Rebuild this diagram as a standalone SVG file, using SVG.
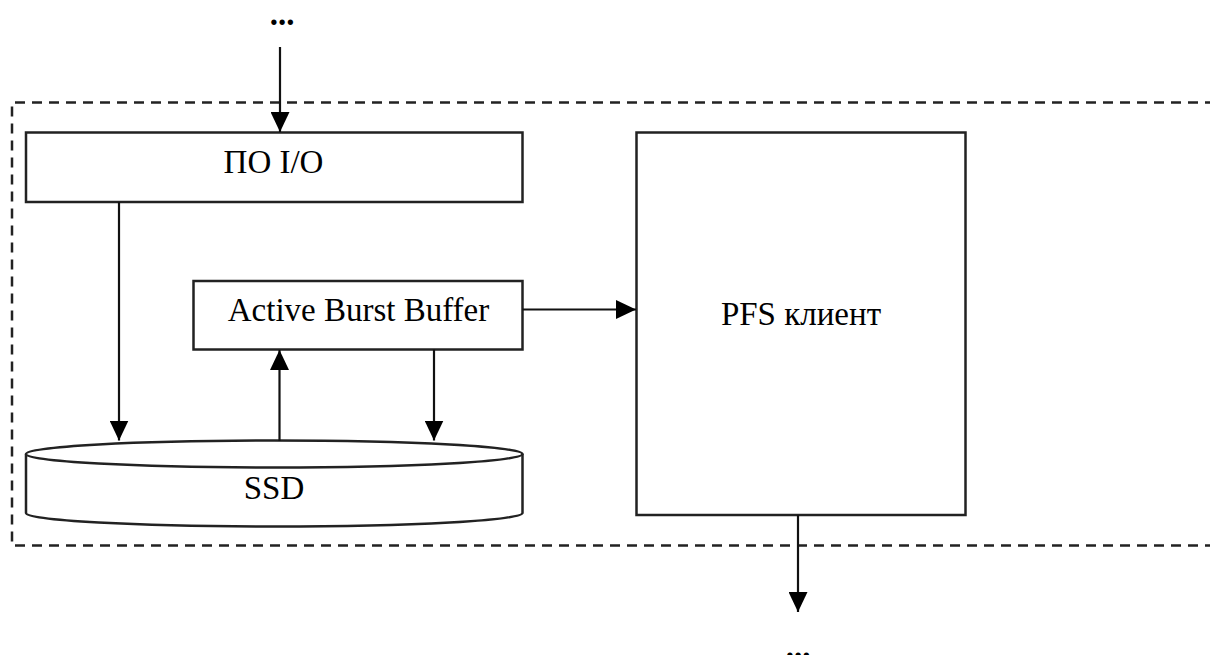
<svg xmlns="http://www.w3.org/2000/svg" width="1210" height="655" viewBox="0 0 1210 655">
<style>
.box{fill:#fff;stroke:#222;stroke-width:2.5}
.lbl{font-family:"Liberation Serif","Times New Roman",serif;font-size:33px;fill:#000;text-anchor:middle}
.dots{font-weight:bold}
.con{stroke:#111;stroke-width:2.2;fill:none}
.dash{stroke:#222;stroke-width:2.5;fill:none;stroke-dasharray:10 7}
</style>
<defs>
<marker id="arr" markerUnits="userSpaceOnUse" markerWidth="20" markerHeight="19" refX="20" refY="9.5" orient="auto">
<path d="M0,0 L20,9.5 L0,19 z" fill="#000"/>
</marker>
</defs>
<rect width="1210" height="655" fill="#fff"/>
<g id="boundary">
<path class="dash" d="M1215,102.5 H12 V545.5 H1215"/>
</g>
<g id="top-dots"><text class="lbl dots" x="282" y="25">...</text></g>
<g id="bottom-dots"><text class="lbl dots" x="798" y="658">...</text></g>
<g id="po-io">
<rect class="box" x="26" y="132.5" width="496.5" height="69.5"/>
<text class="lbl" x="273.5" y="173">ПО I/O</text>
</g>
<g id="abb">
<rect class="box" x="193.5" y="281" width="329" height="68.5"/>
<text class="lbl" x="358.5" y="321">Active Burst Buffer</text>
</g>
<g id="pfs">
<rect class="box" x="636.5" y="132.5" width="329" height="382.5"/>
<text class="lbl" x="801" y="325">PFS клиент</text>
</g>
<g id="ssd">
<path class="box" d="M26,454 V513 A248.25,13.5 0 0 0 522.5,513 V454"/>
<ellipse class="box" cx="274.25" cy="454" rx="248.25" ry="13.5"/>
<text class="lbl" x="274" y="499">SSD</text>
</g>
<g id="connectors">
<line class="con" x1="280" y1="47" x2="280" y2="132" marker-end="url(#arr)"/>
<line class="con" x1="119" y1="202" x2="119" y2="440.5" marker-end="url(#arr)"/>
<line class="con" x1="279.5" y1="441" x2="279.5" y2="350" marker-end="url(#arr)"/>
<line class="con" x1="434" y1="349.5" x2="434" y2="440.5" marker-end="url(#arr)"/>
<line class="con" x1="522.5" y1="309.5" x2="636" y2="309.5" marker-end="url(#arr)"/>
<line class="con" x1="798" y1="515" x2="798" y2="612" marker-end="url(#arr)"/>
</g>
</svg>
